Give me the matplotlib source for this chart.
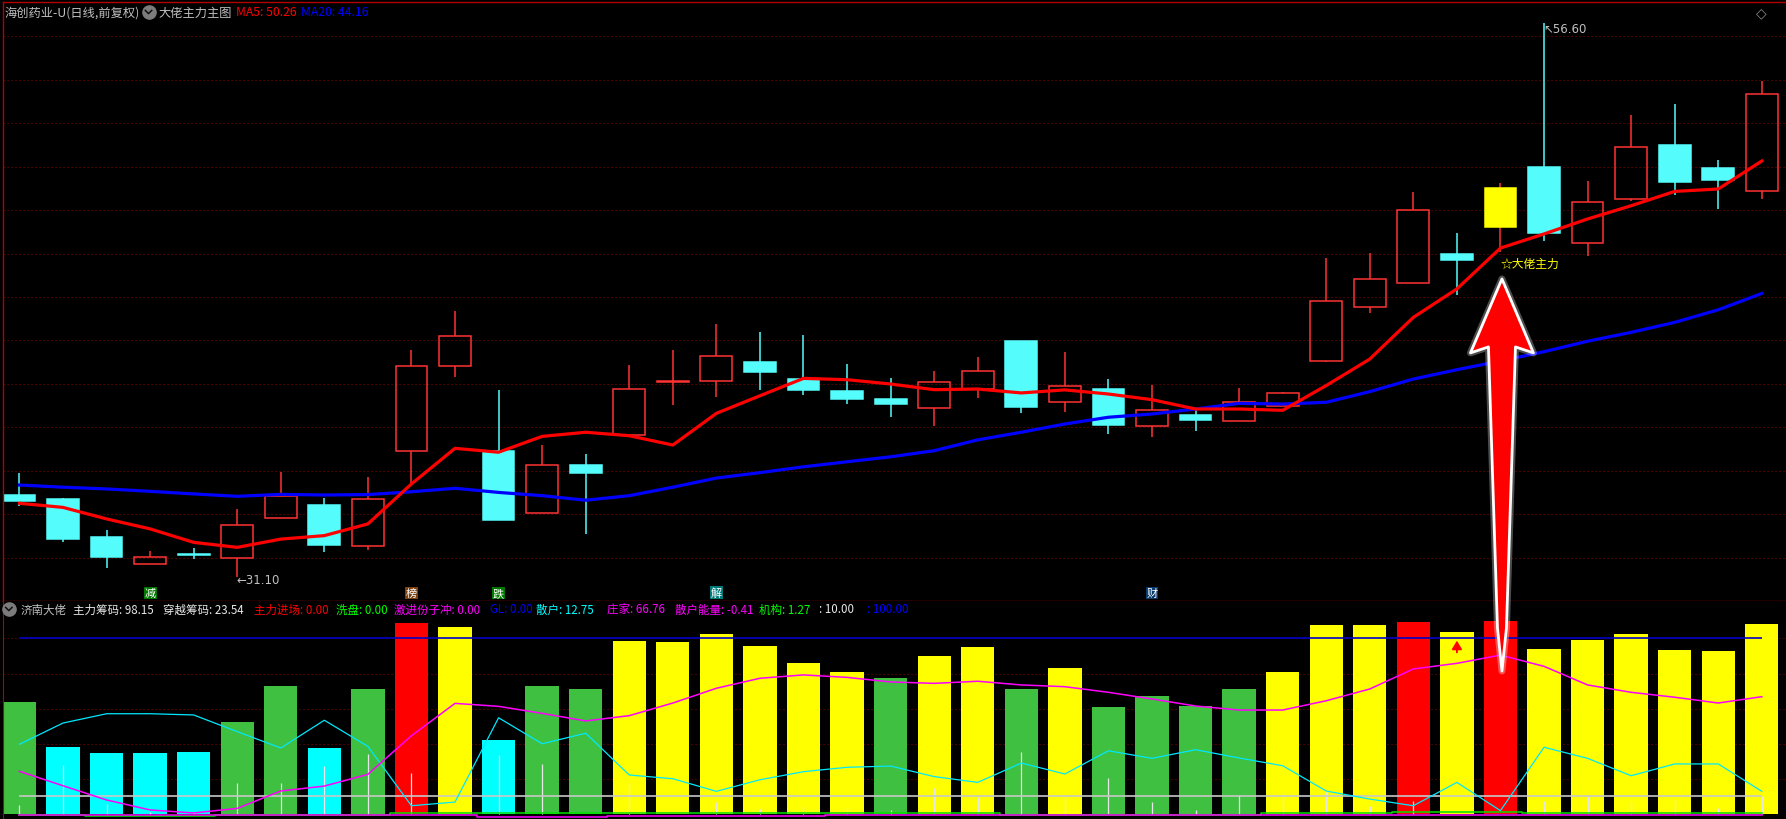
import numpy as np
import matplotlib
matplotlib.use("Agg")
import matplotlib.pyplot as plt
import matplotlib.transforms as mtransforms
from matplotlib.patches import Polygon
from matplotlib.lines import Line2D

plt.rcParams['font.family'] = ['Noto Sans CJK SC', 'DejaVu Sans']
plt.rcParams['axes.unicode_minus'] = False

W, H, DPI = 1786, 820, 100

# ---- 日线 K线 (前复权) ----
opens = [34.88, 34.70, 32.95, 31.72, 32.17, 31.97, 33.81, 34.42, 32.55, 36.92,
         40.81, 36.91, 34.04, 36.26, 37.66, 40.08, 40.12, 41.00, 40.22, 39.67,
         39.30, 38.87, 39.76, 41.97, 39.15, 39.76, 38.07, 38.56, 38.27, 38.97,
         41.06, 43.52, 44.63, 45.96, 47.23, 49.97, 46.47, 48.50, 51.00, 49.94, 48.86]
highs = [35.90, 34.72, 33.28, 32.30, 32.44, 34.24, 35.93, 34.73, 35.70, 41.56,
         43.35, 39.72, 37.18, 36.77, 40.87, 41.56, 42.75, 42.38, 42.24, 40.91,
         40.27, 40.59, 41.23, 41.97, 41.47, 40.22, 39.95, 38.89, 39.81, 39.64,
         45.79, 46.02, 48.83, 46.94, 49.25, 56.60, 49.32, 52.38, 52.87, 50.31, 53.96]
lows = [34.39, 32.73, 31.53, 31.72, 31.95, 31.10, 33.81, 32.24, 32.36, 35.40,
        40.33, 33.74, 34.04, 33.10, 37.66, 39.03, 39.41, 39.73, 39.50, 39.09,
        38.49, 38.07, 39.36, 38.67, 38.72, 37.69, 37.54, 37.84, 38.27, 38.97,
        41.02, 43.26, 44.63, 44.10, 46.06, 46.59, 45.90, 48.40, 48.71, 48.05, 48.51]
closes = [34.62, 32.87, 32.04, 32.03, 32.13, 33.49, 34.85, 32.59, 34.70, 40.81,
          42.19, 33.74, 36.26, 35.91, 39.75, 40.12, 41.27, 40.56, 39.73, 39.31,
          39.09, 40.07, 40.58, 38.93, 39.89, 38.10, 38.78, 38.35, 39.15, 39.56,
          43.80, 44.81, 47.99, 45.71, 49.02, 46.93, 48.36, 50.89, 49.31, 49.40, 53.33]
ma5 = [34.50, 34.31, 33.78, 33.32, 32.70, 32.47, 32.85, 33.01, 33.55, 35.39,
       37.03, 36.85, 37.58, 37.77, 37.61, 37.18, 38.64, 39.45, 40.25, 40.19,
       39.99, 39.73, 39.76, 39.58, 39.72, 39.53, 39.27, 38.84, 38.84, 38.78,
       39.92, 41.14, 43.06, 44.37, 46.25, 46.90, 47.59, 48.20, 48.86, 48.97, 50.26]
ma20 = [35.34, 35.24, 35.16, 35.05, 34.93, 34.82, 34.91, 34.88, 34.90, 35.03,
        35.19, 35.00, 34.85, 34.64, 34.85, 35.24, 35.66, 35.91, 36.18, 36.41,
        36.64, 36.92, 37.42, 37.77, 38.15, 38.46, 38.61, 38.84, 39.10, 39.07,
        39.15, 39.64, 40.22, 40.65, 41.05, 41.48, 41.96, 42.37, 42.83, 43.41, 44.16]
signal_day = 34
tag_days = [3, 9, 11, 16, 26]
tag_text = ['减', '榜', '跌', '解', '财']
tag_colors = ['#007800', '#7a4010', '#007800', '#007878', '#0a3a6a']

# ---- 济南大佬 副图 ----
chip_vals = [63.8, 38.2, 34.7, 34.7, 35.3, 52.4, 72.9, 37.6, 71.2, 108.8,
             106.5, 42.1, 72.9, 71.2, 98.5, 97.9, 102.5, 95.7, 86.0, 80.9,
             77.5, 90.0, 95.1, 71.2, 83.1, 60.9, 67.2, 61.5, 71.2, 80.9,
             107.6, 107.6, 109.3, 103.6, 109.9, 94.0, 99.1, 102.5, 93.4, 92.8, 108.2]
chip_kind = ['G', 'C', 'C', 'C', 'C', 'G', 'G', 'C', 'G', 'R',
             'Y', 'C', 'G', 'G', 'Y', 'Y', 'Y', 'Y', 'Y', 'Y',
             'G', 'Y', 'Y', 'G', 'Y', 'G', 'G', 'G', 'G', 'Y',
             'Y', 'Y', 'R', 'Y', 'R', 'Y', 'Y', 'Y', 'Y', 'Y', 'Y']
zhuangjia = [24.3, 16.1, 8.0, 2.3, 0.6, 3.2, 13.1, 15.9, 22.6, 44.6,
             63.0, 61.3, 57.3, 53.0, 56.0, 63.2, 71.6, 77.3, 79.2, 77.8,
             75.2, 74.4, 75.6, 73.5, 72.5, 69.3, 65.5, 61.5, 59.2, 59.2,
             64.5, 71.2, 82.6, 85.8, 90.5, 84.1, 73.5, 69.3, 66.5, 63.2, 66.8]
sanhu = [39.7, 51.8, 57.1, 57.1, 56.4, 46.9, 37.6, 53.4, 38.5, 4.7,
         6.8, 54.8, 40.0, 46.0, 22.2, 20.1, 12.9, 19.5, 24.1, 26.6,
         27.3, 21.3, 18.0, 29.0, 22.8, 36.0, 31.7, 36.6, 31.9, 27.5,
         13.1, 8.5, 4.7, 18.0, 1.9, 38.0, 31.7, 21.8, 28.5, 28.5, 12.9]
jigou = [5.1, 28.1, 5.7, 1.1, 1.0, 17.8, 17.8, 27.5, 34.2, 23.3,
         0.0, 33.6, 28.5, 0.0, 17.8, 0.0, 7.0, 2.8, 4.7, 3.4,
         2.3, 14.6, 9.5, 35.5, 10.4, 20.5, 7.0, 2.4, 10.8, 11.4,
         12.4, 4.7, 7.6, 0.0, 0.0, 7.6, 10.4, 7.6, 8.8, 3.2, 10.4]
base_green = [-0.6, -0.6, -1.3, -1.3, -1.3, -0.6, -0.6, -0.6, -0.6, 0.6,
              0.6, 0.4, 0.4, 0.4, 0.4, 0.4, 0.4, 0.4, 0.4, 0.4,
              0.4, 0.4, 0.4, -0.6, -0.6, -0.6, -0.6, -0.6, -0.6, 0.4,
              0.4, 0.4, 1.3, 1.3, 1.3, 0.4, 0.4, 0.4, 0.4, 0.4, 0.4]
base_magenta = [-0.3, -0.3, -0.3, -0.3, -0.3, -0.3, -0.3, -0.3, -0.3, -0.6,
                -0.6, -1.7, -1.7, -1.7, -1.2, -1.2, -1.2, -1.2, -1.2, -0.6,
                -0.6, -0.6, -0.6, -0.6, -0.6, -0.6, -0.6, -0.6, -0.6, -0.6,
                -0.6, -0.6, -0.6, -0.6, -0.6, -0.6, -0.6, -0.6, -0.6, -0.6, -0.6]
line_levels = [10, 100]

top_header = [(4.6, '海创药业-U(日线,前复权)', '#c0c0c0'),
              (158.8, '大佬主力主图', '#c0c0c0'),
              (236, 'MA5: 50.26', '#ff0000'),
              (301, 'MA20: 44.16', '#0000ff')]
low_header = [(20.5, '济南大佬', '#c0c0c0'),
              (73.4, '主力筹码: 98.15', '#e8e8e8'),
              (163, '穿越筹码: 23.54', '#e8e8e8'),
              (253.5, '主力进场: 0.00', '#ff0000'),
              (335.7, '洗盘: 0.00', '#00ff00'),
              (394.4, '激进份子冲: 0.00', '#ff00ff'),
              (490.0, 'GL: 0.00', '#0000ff'),
              (536.5, '散户: 12.75', '#00ffff'),
              (607.4, '庄家: 66.76', '#ff00ff'),
              (674.9, '散户能量: -0.41', '#ff00ff'),
              (758.8, '机构: 1.27', '#00ff00'),
              (818.7, ': 10.00', '#e8e8e8'),
              (867.4, ': 100.00', '#0000ff')]

BORDER = '#b40000'
GRID = '#900000'
RED = '#ff3232'
CYAN = '#54fcfc'


def fpos(xp, yp):
    return xp / W, 1 - yp / H


def menu_icon(fig, xp, yp):
    ident = mtransforms.IdentityTransform()
    fig.add_artist(Line2D([xp], [H - yp], marker='o', ms=9.5, color='#7c7c7c',
                          transform=ident))
    fig.add_artist(Line2D([xp - 3.2, xp, xp + 3.2], [H - yp + 1.6, H - yp - 1.6, H - yp + 1.6],
                          color='#101010', lw=1.1, transform=ident))


fig = plt.figure(figsize=(W / DPI, H / DPI), dpi=DPI, facecolor='black')
ax = fig.add_axes([3 / W, 1 - 602 / H, (W - 3) / W, 599 / H], facecolor='black')
ax2 = fig.add_axes([3 / W, 0, (W - 3) / W, 218 / H], facecolor='black')

x = np.arange(len(opens))
for a in (ax, ax2):
    a.set_xlim(-0.3765, 40.555)
    a.set_xticks([])
    a.set_yticks([])
    for s in a.spines.values():
        s.set_visible(False)
ax.set_ylim(30.0, 57.58)
ax2.set_ylim(-2.85, 121.3)
for side in ('left', 'top', 'bottom'):
    ax.spines[side].set_visible(True)
    ax.spines[side].set_color(BORDER)
    ax.spines[side].set_linewidth(1.0)
ax2.spines['left'].set_visible(True)
ax2.spines['left'].set_color(BORDER)

# grid
for p in range(32, 57, 2):
    ax.axhline(p, color=GRID, lw=0.72, ls=(0, (1, 3)), zorder=0)
for v in range(20, 101, 20):
    ax2.axhline(v, color=GRID, lw=0.72, ls=(0, (1, 3)), zorder=0)

# candles
for i in x:
    o, h, l, c = opens[i], highs[i], lows[i], closes[i]
    if i == signal_day:
        face, edge, wick = '#ffff00', '#ffff00', RED
    elif c >= o:
        face, edge, wick = 'none', RED, RED
    else:
        face, edge, wick = CYAN, CYAN, CYAN
    top, bot = max(o, c), min(o, c)
    ax.vlines(i, top, h, color=wick, lw=1.1, zorder=2)
    ax.vlines(i, l, bot, color=wick, lw=1.1, zorder=2)
    ax.bar(i, max(top - bot, 0.04), bottom=bot, width=0.73, facecolor=face,
           edgecolor=edge, lw=1.1, zorder=2)

ax.plot(x, ma20, color='#0000ff', lw=2.3, zorder=3)
ax.plot(x, ma5, color='#ff0000', lw=2.3, zorder=4)

lo = int(np.argmin(lows))
hi = int(np.argmax(highs))
ax.annotate('←%.2f' % lows[lo], (lo, lows[lo]), xytext=(-1, -2), textcoords='offset pixels',
            ha='left', va='center', color='#c0c0c0', fontsize=8.5, family='DejaVu Sans')
ax.annotate('↖%.2f' % highs[hi], (hi, highs[hi]), xytext=(-1, -5), textcoords='offset pixels',
            ha='left', va='center', color='#c0c0c0', fontsize=8.5, family='DejaVu Sans')
ax.text(signal_day, lows[signal_day] - 0.5, '☆大佬主力', color='#ffff00', fontsize=8.5,
        ha='left', va='center', zorder=6)

tag_tr = mtransforms.blended_transform_factory(ax.transData, ax.transAxes)
for d, t, col in zip(tag_days, tag_text, tag_colors):
    ax.text(d, 0.014, t, transform=tag_tr, color='white', fontsize=8, ha='center', va='center',
            bbox=dict(boxstyle='square,pad=0.08', fc=col, ec='none'))

# indicator panel
kind_colors = {'G': '#40c040', 'C': '#00ffff', 'Y': '#ffff00', 'R': '#ff0000'}
ax2.bar(x, chip_vals, width=0.765, color=[kind_colors[k] for k in chip_kind], lw=0, zorder=2)
ax2.vlines(x, 0, jigou, color='#e6e6e6', lw=0.9, zorder=3)
ax2.hlines(line_levels, x[0], x[-1], colors=['#c8c8c8', '#0000c8'], lw=1.2, zorder=3)
ax2.plot(x, sanhu, color='#00e8ff', lw=0.9, zorder=4)
ax2.plot(x, zhuangjia, color='#ff00ff', lw=1.1, zorder=4)
ax2.plot(x, base_green, color='#00e000', lw=1.1, drawstyle='steps-mid', zorder=4)
ax2.plot(x, base_magenta, color='#ff00ff', lw=1.1, drawstyle='steps-mid', zorder=4)
ax2.annotate('', xy=(33, 98.7), xytext=(33, 92.0),
             arrowprops=dict(arrowstyle='-|>,head_length=0.5,head_width=0.3', color='#ff0000',
                             lw=1.3, mutation_scale=10, shrinkA=0, shrinkB=0), zorder=5)

# big signal arrow spanning both panels
tip = ax.transData.transform((signal_day, 44.83))
tail = ax2.transData.transform((signal_day, 81.4))
xc, yt, yb = tip[0] + 1.5, tip[1], tail[1]
ymid = yb + 0.11 * (yt - yb)
pts = [(xc, yt), (xc + 31.5, yt - 74), (xc + 13.5, yt - 68), (xc + 4.5, ymid), (xc, yb),
       (xc - 4.5, ymid), (xc - 13.5, yt - 68), (xc - 31.5, yt - 74)]
ident = mtransforms.IdentityTransform()
fig.add_artist(Polygon(pts, closed=True, fc='none', ec='white', lw=5, alpha=0.3,
                       joinstyle='round', transform=ident, zorder=9))
fig.add_artist(Polygon(pts, closed=True, fc='#ff0000', ec='white', lw=2.0,
                       joinstyle='round', transform=ident, zorder=10))

# headers
for xp, txt, col in top_header:
    fig.text(*fpos(xp, 13), txt, color=col, fontsize=8.8, ha='left', va='center')
menu_icon(fig, 148.5, 13)
for xp, txt, col in low_header:
    fig.text(*fpos(xp, 610), txt, color=col, fontsize=8.3, ha='left', va='center')
menu_icon(fig, 8.8, 610)
fig.text(*fpos(1761, 13), '◇', color='#8c8c8c', fontsize=10, ha='center', va='center',
         family='DejaVu Sans')

fig.savefig('out.png', dpi=DPI, facecolor='black')
